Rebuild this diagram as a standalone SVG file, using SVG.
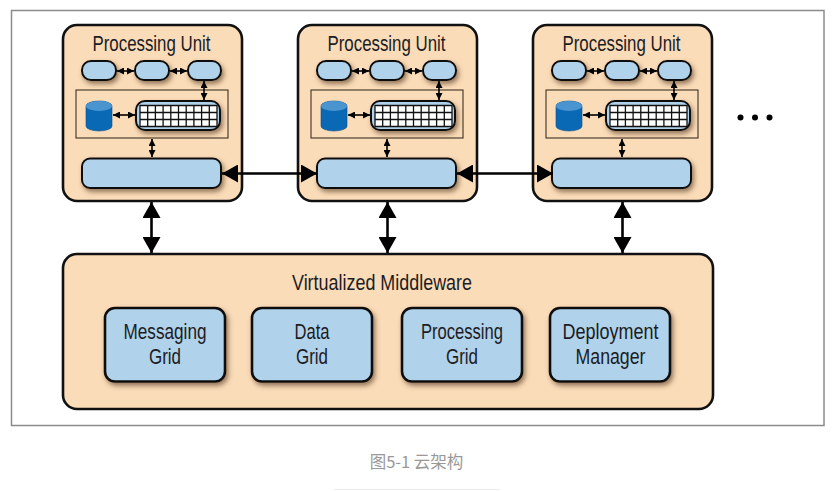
<svg xmlns="http://www.w3.org/2000/svg" xmlns:xlink="http://www.w3.org/1999/xlink" width="835" height="491" viewBox="0 0 835 491">
<style>
.frame{fill:#fff;stroke:#8c8c8c;stroke-width:1.5}
.pan{fill:#fbdcb9;stroke:#111;stroke-width:2.6}
.blue{fill:#b0d2ea;stroke:#111;stroke-width:2;filter:url(#sh)}
.box{fill:#b0d2ea;stroke:#111;stroke-width:2.6;filter:url(#sh)}
.inner{fill:none;stroke:#2a1e12;stroke-width:1}
.grid{fill:#fff;stroke:#111;stroke-width:1.3}
text{font-family:"Liberation Sans",Arial,sans-serif;fill:#1c1c24;text-anchor:middle}
.t{font-size:21.700px}
.cap{font-family:"Noto Sans CJK SC",sans-serif;font-size:16.500px;fill:#999}
.big{fill:none;stroke:#000;stroke-width:2.6;marker-start:url(#bs);marker-end:url(#be)}
.sm{fill:none;stroke:#000;stroke-width:1.6;marker-start:url(#ss);marker-end:url(#se)}
</style>
<defs>
<filter id="sh" x="-20%" y="-30%" width="150%" height="170%"><feDropShadow dx="2" dy="3" stdDeviation="2.800" flood-color="#5a4028" flood-opacity=".65"/></filter>
<marker id="be" markerUnits="userSpaceOnUse" markerWidth="16" markerHeight="18" refX="16" refY="9" orient="auto"><path d="M0 0L16 9L0 18z" fill="#000"/></marker>
<marker id="bs" markerUnits="userSpaceOnUse" markerWidth="16" markerHeight="18" refX="0" refY="9" orient="auto"><path d="M16 0L0 9L16 18z" fill="#000"/></marker>
<marker id="se" markerUnits="userSpaceOnUse" markerWidth="7" markerHeight="7" refX="7" refY="3.500" orient="auto"><path d="M0 0L7 3.500L0 7z" fill="#000"/></marker>
<marker id="ss" markerUnits="userSpaceOnUse" markerWidth="7" markerHeight="7" refX="0" refY="3.500" orient="auto"><path d="M7 0L0 3.500L7 7z" fill="#000"/></marker>
<g id="pu">
<rect class="pan" x="63" y="25" width="179" height="176" rx="14"/>
<text class="t" x="151.500" y="51" textLength="118" lengthAdjust="spacingAndGlyphs">Processing Unit</text>
<rect class="inner" x="76" y="90" width="152" height="48"/>
<rect class="blue" x="82" y="61" width="34" height="19" rx="9"/>
<rect class="blue" x="135" y="61" width="34" height="19" rx="9"/>
<rect class="blue" x="188" y="61" width="33" height="19" rx="9"/>
<path d="M86 106a13 5 0 0 1 26 0v20a13 5 0 0 1-26 0z" fill="#0a69b4" stroke="#0a4f8a" stroke-width=".6"/>
<ellipse cx="99" cy="106" rx="13" ry="5" fill="#4a94cf"/>
<rect class="blue" x="136" y="101" width="84" height="29" rx="9"/>
<path class="grid" d="M140 105.500h77v21h-77zM140 112.500h77M140 119.500h77M147.700 105.500v21M155.400 105.500v21M163.100 105.500v21M170.800 105.500v21M178.500 105.500v21M186.200 105.500v21M193.900 105.500v21M201.600 105.500v21M209.300 105.500v21"/>
<rect class="box" x="82" y="158.500" width="139" height="29.500" rx="8" style="stroke-width:2"/>
<path class="sm" d="M117 71H134"/>
<path class="sm" d="M170 71H187"/>
<path class="sm" d="M204 81V100"/>
<path class="sm" d="M113 115H135"/>
<path class="sm" d="M152 139V157"/>
</g>
</defs>
<rect class="frame" x="11.500" y="10.500" width="812.500" height="415"/>
<g id="unit1"><use xlink:href="#pu" href="#pu"/></g>
<g id="unit2"><use xlink:href="#pu" href="#pu" x="235"/></g>
<g id="unit3"><use xlink:href="#pu" href="#pu" x="470"/></g>
<g id="more"><circle cx="740.500" cy="117.500" r="3" fill="#000"/><circle cx="755" cy="117.500" r="3" fill="#000"/><circle cx="769.500" cy="117.500" r="3" fill="#000"/></g>
<g id="middleware">
<rect class="pan" x="63" y="254" width="650" height="155" rx="14"/>
<text class="t" x="382" y="290" textLength="180" lengthAdjust="spacingAndGlyphs">Virtualized Middleware</text>
</g>
<g id="messaging"><rect class="box" x="105" y="308" width="120" height="73.500" rx="10"/>
<text class="t" x="165" y="339" textLength="83" lengthAdjust="spacingAndGlyphs">Messaging</text><text class="t" x="165" y="364" textLength="32" lengthAdjust="spacingAndGlyphs">Grid</text></g>
<g id="data"><rect class="box" x="252" y="308" width="120" height="73.500" rx="10"/>
<text class="t" x="312" y="339" textLength="35" lengthAdjust="spacingAndGlyphs">Data</text><text class="t" x="312" y="364" textLength="32" lengthAdjust="spacingAndGlyphs">Grid</text></g>
<g id="processing"><rect class="box" x="402" y="308" width="120" height="73.500" rx="10"/>
<text class="t" x="462" y="339" textLength="82" lengthAdjust="spacingAndGlyphs">Processing</text><text class="t" x="462" y="364" textLength="32" lengthAdjust="spacingAndGlyphs">Grid</text></g>
<g id="deployment"><rect class="box" x="550" y="308" width="120" height="73.500" rx="10"/>
<text class="t" x="610.500" y="339" textLength="96" lengthAdjust="spacingAndGlyphs">Deployment</text><text class="t" x="610.500" y="364" textLength="70" lengthAdjust="spacingAndGlyphs">Manager</text></g>
<g id="connectors">
<path class="big" d="M222 173.500H317"/>
<path class="big" d="M457 173.500H553"/>
<path class="big" d="M151.500 202V253"/>
<path class="big" d="M387.500 202V253"/>
<path class="big" d="M622.500 202V253"/>
</g>
<text class="cap" x="416.500" y="468">图5-1 云架构</text>
<rect x="334" y="489" width="166" height="1" fill="#ececec"/>
</svg>
